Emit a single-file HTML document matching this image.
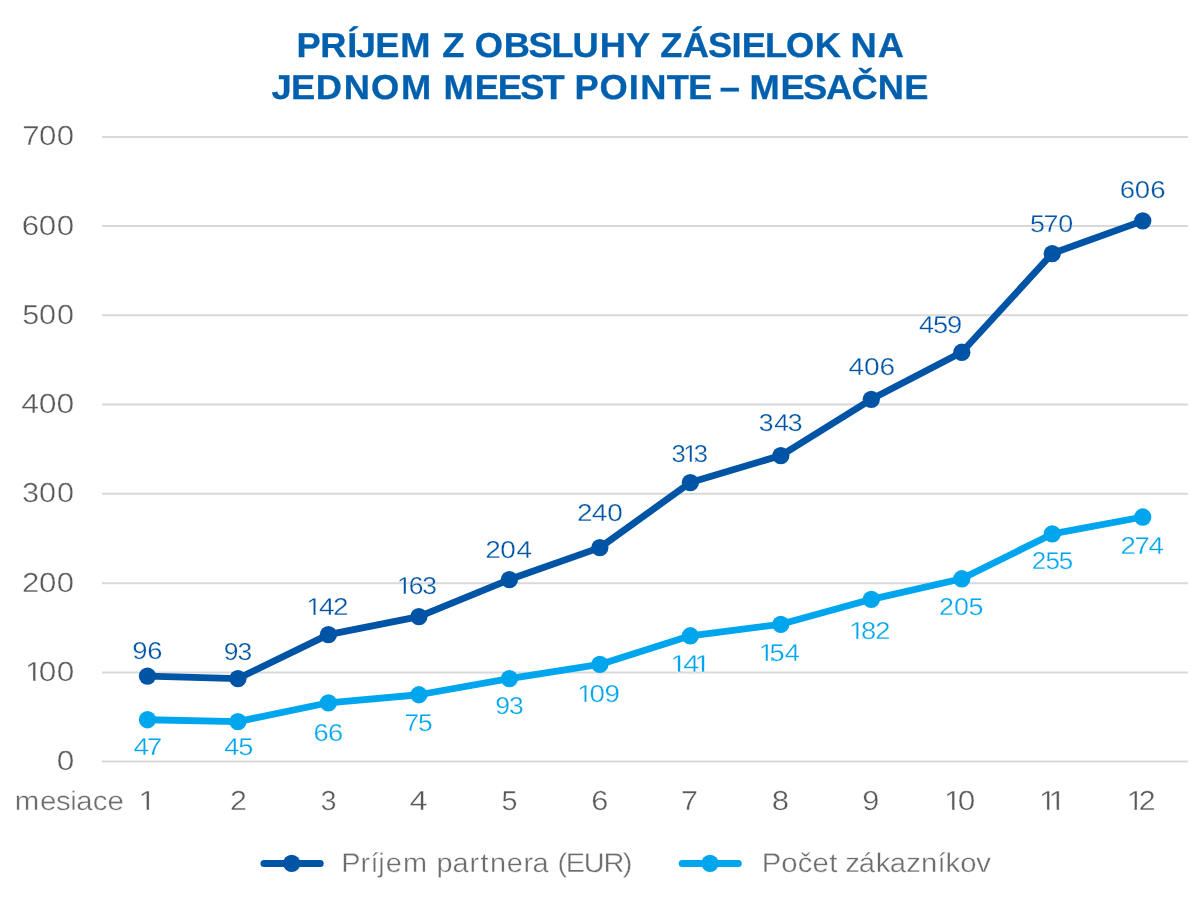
<!DOCTYPE html>
<html lang="sk"><head><meta charset="utf-8"><title>Príjem z obsluhy zásielok na jednom Meest Pointe – mesačne</title>
<style>
html,body{margin:0;padding:0;background:#fff;}
body{width:1200px;height:900px;overflow:hidden;}
svg{display:block;font-family:"Liberation Sans",sans-serif;font-kerning:none;font-variant-ligatures:none;text-rendering:geometricPrecision;}
</style></head><body>
<svg width="1200" height="900" viewBox="0 0 1200 900">
<defs>
<clipPath id="k1"><path clip-rule="evenodd" d="M19.0 653.5H88.2V687.0H19.0ZM26.21 678.34H33.15V682.00H26.21ZM35.54 678.34H41.53V682.00H35.54Z"/></clipPath>
<clipPath id="k2"><path clip-rule="evenodd" d="M132.6 782.5H169.9V816.0H132.6ZM139.79 807.34H146.68V811.00H139.79ZM149.05 807.34H155.69V811.00H149.05Z"/></clipPath>
<clipPath id="k3"><path clip-rule="evenodd" d="M938.0 782.5H989.4V816.0H938.0ZM945.21 807.34H952.15V811.00H945.21ZM954.53 807.34H960.52V811.00H954.53Z"/></clipPath>
<clipPath id="k4"><path clip-rule="evenodd" d="M1032.9 782.5H1079.9V816.0H1032.9ZM1040.08 807.34H1046.97V811.00H1040.08ZM1049.33 807.34H1056.70V811.00H1049.33ZM1059.07 807.34H1065.71V811.00H1059.07Z"/></clipPath>
<clipPath id="k5"><path clip-rule="evenodd" d="M1120.7 782.5H1169.2V816.0H1120.7ZM1127.79 807.34H1134.51V811.00H1127.79ZM1136.80 807.34H1140.07V811.00H1136.80Z"/></clipPath>
<clipPath id="k6"><path clip-rule="evenodd" d="M300.3 590.6H361.0V621.0H300.3ZM307.25 612.57H313.51V616.00H307.25ZM315.65 612.57H321.69V616.00H315.65Z"/></clipPath>
<clipPath id="k7"><path clip-rule="evenodd" d="M390.9 569.6H448.6V600.0H390.9ZM397.75 591.57H403.75V595.00H397.75ZM405.78 591.57H411.17V595.00H405.78Z"/></clipPath>
<clipPath id="k8"><path clip-rule="evenodd" d="M665.6 437.6H719.4V468.0H665.6ZM684.38 459.57H689.84V463.00H684.38ZM691.80 459.57H695.26V463.00H691.80Z"/></clipPath>
<clipPath id="k9"><path clip-rule="evenodd" d="M571.3 677.6H632.3V708.0H571.3ZM578.25 699.57H584.46V703.00H578.25ZM586.59 699.57H591.95V703.00H586.59Z"/></clipPath>
<clipPath id="k10"><path clip-rule="evenodd" d="M664.6 647.6H723.4V678.0H664.6ZM671.55 669.57H677.99V673.00H671.55ZM680.21 669.57H686.41V673.00H680.21ZM695.99 669.57H701.91V673.00H695.99ZM704.13 669.57H710.34V673.00H704.13Z"/></clipPath>
<clipPath id="k11"><path clip-rule="evenodd" d="M752.7 636.6H812.1V667.0H752.7ZM759.57 658.57H765.70V662.00H759.57ZM767.79 658.57H771.08V662.00H767.79Z"/></clipPath>
<clipPath id="k12"><path clip-rule="evenodd" d="M843.2 614.6H902.7V645.0H843.2ZM850.07 636.57H856.23V640.00H850.07ZM858.33 636.57H862.74V640.00H858.33Z"/></clipPath>
</defs>
<rect width="1200" height="900" fill="#ffffff"/>
<line x1="102" x2="1188" y1="761.58" y2="761.58" stroke="#d9d9d9" stroke-width="2"/>
<line x1="102" x2="1188" y1="672.45" y2="672.45" stroke="#d9d9d9" stroke-width="2"/>
<line x1="102" x2="1188" y1="583.20" y2="583.20" stroke="#d9d9d9" stroke-width="2"/>
<line x1="102" x2="1188" y1="493.70" y2="493.70" stroke="#d9d9d9" stroke-width="2"/>
<line x1="102" x2="1188" y1="404.50" y2="404.50" stroke="#d9d9d9" stroke-width="2"/>
<line x1="102" x2="1188" y1="315.25" y2="315.25" stroke="#d9d9d9" stroke-width="2"/>
<line x1="102" x2="1188" y1="226.00" y2="226.00" stroke="#d9d9d9" stroke-width="2"/>
<line x1="102" x2="1188" y1="137.00" y2="137.00" stroke="#d9d9d9" stroke-width="2"/>
<polyline points="147.45,719.73 237.93,721.56 328.41,702.78 418.90,694.75 509.38,678.60 599.86,664.46 690.34,635.77 780.82,624.31 871.30,599.32 961.79,578.76 1052.27,533.96 1142.75,517.01" fill="none" stroke="#00a6ed" stroke-width="6.8" stroke-linejoin="round" stroke-linecap="round"/>
<circle cx="147.45" cy="719.73" r="8.65" fill="#00a6ed"/>
<circle cx="237.93" cy="721.56" r="8.65" fill="#00a6ed"/>
<circle cx="328.41" cy="702.78" r="8.65" fill="#00a6ed"/>
<circle cx="418.90" cy="694.75" r="8.65" fill="#00a6ed"/>
<circle cx="509.38" cy="678.60" r="8.65" fill="#00a6ed"/>
<circle cx="599.86" cy="664.46" r="8.65" fill="#00a6ed"/>
<circle cx="690.34" cy="635.77" r="8.65" fill="#00a6ed"/>
<circle cx="780.82" cy="624.31" r="8.65" fill="#00a6ed"/>
<circle cx="871.30" cy="599.32" r="8.65" fill="#00a6ed"/>
<circle cx="961.79" cy="578.76" r="8.65" fill="#00a6ed"/>
<circle cx="1052.27" cy="533.96" r="8.65" fill="#00a6ed"/>
<circle cx="1142.75" cy="517.01" r="8.65" fill="#00a6ed"/>
<polyline points="147.45,676.06 237.93,678.60 328.41,634.57 418.90,616.59 509.38,579.56 599.86,547.62 690.34,482.53 780.82,455.53 871.30,399.32 961.79,352.26 1052.27,253.53 1142.75,220.87" fill="none" stroke="#0054a5" stroke-width="6.8" stroke-linejoin="round" stroke-linecap="round"/>
<circle cx="147.45" cy="676.06" r="8.65" fill="#0054a5"/>
<circle cx="237.93" cy="678.60" r="8.65" fill="#0054a5"/>
<circle cx="328.41" cy="634.57" r="8.65" fill="#0054a5"/>
<circle cx="418.90" cy="616.59" r="8.65" fill="#0054a5"/>
<circle cx="509.38" cy="579.56" r="8.65" fill="#0054a5"/>
<circle cx="599.86" cy="547.62" r="8.65" fill="#0054a5"/>
<circle cx="690.34" cy="482.53" r="8.65" fill="#0054a5"/>
<circle cx="780.82" cy="455.53" r="8.65" fill="#0054a5"/>
<circle cx="871.30" cy="399.32" r="8.65" fill="#0054a5"/>
<circle cx="961.79" cy="352.26" r="8.65" fill="#0054a5"/>
<circle cx="1052.27" cy="253.53" r="8.65" fill="#0054a5"/>
<circle cx="1142.75" cy="220.87" r="8.65" fill="#0054a5"/>
<line x1="264" x2="320.2" y1="863.4" y2="863.4" stroke="#0054a5" stroke-width="7" stroke-linecap="round"/>
<circle cx="291.7" cy="863.3" r="8.65" fill="#0054a5"/>
<line x1="682.2" x2="738.3" y1="863.4" y2="863.4" stroke="#00a6ed" stroke-width="7" stroke-linecap="round"/>
<circle cx="710" cy="863.3" r="8.65" fill="#00a6ed"/>
<text transform="translate(0,57.00) scale(1.0482,1)" x="282.75 305.45 331.27 339.38 358.07 381.75 410.61 421.82 442.98 452.82 480.49 504.30 526.07 546.12 572.29 597.21 620.32 629.83 651.26 675.38 697.79 707.56 729.93 749.81 777.29 802.32 811.43 837.29" y="0" font-size="34.65" fill="#0060ad" font-weight="700" stroke="#0060ad" stroke-width="0.3">PRÍJEM Z OBSLUHY ZÁSIELOK NA</text>
<text transform="translate(0,99.00) scale(1.0483,1)" x="258.88 277.55 301.32 327.84 354.00 382.52 411.39 423.14 452.82 474.83 496.36 517.42 538.58 547.99 571.83 599.70 610.65 635.95 656.25 679.36 686.55 705.82 714.91 744.58 766.09 788.04 812.24 837.25 862.59" y="0" font-size="34.65" fill="#0060ad" font-weight="700" stroke="#0060ad" stroke-width="0.3">JEDNOM MEEST POINTE – MESAČNE</text>
<text transform="translate(0,770.00) scale(1.1493,1)" x="49.31" y="0" font-size="27.47" fill="#595959" stroke="#fff" stroke-width="0.37">0</text>
<g clip-path="url(#k1)"><text transform="translate(0,681.00) scale(1.1493,1)" x="21.76 33.76 49.31" y="0" font-size="27.47" fill="#595959" stroke="#fff" stroke-width="0.37">100</text></g>
<text transform="translate(0,592.00) scale(1.1344,1)" x="19.48 34.30 50.06" y="0" font-size="27.47" fill="#595959" stroke="#fff" stroke-width="0.37">200</text>
<text transform="translate(0,502.00) scale(1.1159,1)" x="19.76 35.00 51.02" y="0" font-size="27.47" fill="#595959" stroke="#fff" stroke-width="0.37">300</text>
<text transform="translate(0,413.00) scale(1.1609,1)" x="18.34 33.35 48.74" y="0" font-size="27.47" fill="#595959" stroke="#fff" stroke-width="0.37">400</text>
<text transform="translate(0,324.00) scale(1.1152,1)" x="19.98 35.04 51.05" y="0" font-size="27.47" fill="#595959" stroke="#fff" stroke-width="0.37">500</text>
<text transform="translate(0,235.00) scale(1.1397,1)" x="19.20 34.11 49.79" y="0" font-size="27.47" fill="#595959" stroke="#fff" stroke-width="0.37">600</text>
<text transform="translate(0,145.00) scale(1.1367,1)" x="19.68 34.22 49.94" y="0" font-size="27.47" fill="#595959" stroke="#fff" stroke-width="0.37">700</text>
<g clip-path="url(#k2)"><text transform="translate(0,810.00) scale(1.1400,1)" x="121.59" y="0" font-size="27.47" fill="#595959" stroke="#fff" stroke-width="0.37">1</text></g>
<text transform="translate(0,810.00) scale(1.1046,1)" x="208.14" y="0" font-size="27.47" fill="#595959" stroke="#fff" stroke-width="0.37">2</text>
<text transform="translate(0,810.00) scale(1.0489,1)" x="305.47" y="0" font-size="27.47" fill="#595959" stroke="#fff" stroke-width="0.37">3</text>
<text transform="translate(0,810.00) scale(1.1839,1)" x="345.80" y="0" font-size="27.47" fill="#595959" stroke="#fff" stroke-width="0.37">4</text>
<text transform="translate(0,810.00) scale(1.0469,1)" x="479.08" y="0" font-size="27.47" fill="#595959" stroke="#fff" stroke-width="0.37">5</text>
<text transform="translate(0,810.00) scale(1.1204,1)" x="527.61" y="0" font-size="27.47" fill="#595959" stroke="#fff" stroke-width="0.37">6</text>
<text transform="translate(0,810.00) scale(1.1113,1)" x="612.79" y="0" font-size="27.47" fill="#595959" stroke="#fff" stroke-width="0.37">7</text>
<text transform="translate(0,810.00) scale(1.1353,1)" x="679.87" y="0" font-size="27.47" fill="#595959" stroke="#fff" stroke-width="0.37">8</text>
<text transform="translate(0,810.00) scale(1.1192,1)" x="770.41" y="0" font-size="27.47" fill="#595959" stroke="#fff" stroke-width="0.37">9</text>
<g clip-path="url(#k3)"><text transform="translate(0,810.00) scale(1.1493,1)" x="821.35 833.34" y="0" font-size="27.47" fill="#595959" stroke="#fff" stroke-width="0.37">10</text></g>
<g clip-path="url(#k4)"><text transform="translate(0,810.00) scale(1.1400,1)" x="911.31 919.85" y="0" font-size="27.47" fill="#595959" stroke="#fff" stroke-width="0.37">11</text></g>
<g clip-path="url(#k5)"><text transform="translate(0,810.00) scale(1.1046,1)" x="1019.99 1031.00" y="0" font-size="27.47" fill="#595959" stroke="#fff" stroke-width="0.37">12</text></g>
<text transform="translate(0,810.00) scale(1.0947,1)" x="13.54 36.61 51.05 64.17 69.56 84.81 98.16" y="0" font-size="26.86" fill="#6d6d6d" stroke="#fff" stroke-width="0.37">mesiace</text>
<text transform="translate(0,659.00) scale(1.1198,1)" x="118.19 131.59" y="0" font-size="24.42" fill="#0054a5" stroke="#fff" stroke-width="0.3">96</text>
<text transform="translate(0,660.00) scale(1.0841,1)" x="206.36 218.98" y="0" font-size="24.42" fill="#0054a5" stroke="#fff" stroke-width="0.3">93</text>
<g clip-path="url(#k6)"><text transform="translate(0,615.00) scale(1.1443,1)" x="267.70 278.75 291.03" y="0" font-size="24.42" fill="#0054a5" stroke="#fff" stroke-width="0.3">142</text></g>
<g clip-path="url(#k7)"><text transform="translate(0,594.00) scale(1.0847,1)" x="365.95 376.74 389.19" y="0" font-size="24.42" fill="#0054a5" stroke="#fff" stroke-width="0.3">163</text></g>
<text transform="translate(0,558.00) scale(1.1460,1)" x="423.41 436.46 450.65" y="0" font-size="24.42" fill="#0054a5" stroke="#fff" stroke-width="0.3">204</text>
<text transform="translate(0,521.00) scale(1.1460,1)" x="503.42 516.37 529.88" y="0" font-size="24.42" fill="#0054a5" stroke="#fff" stroke-width="0.3">240</text>
<g clip-path="url(#k8)"><text transform="translate(0,462.00) scale(1.0489,1)" x="640.27 651.37 661.42" y="0" font-size="24.42" fill="#0054a5" stroke="#fff" stroke-width="0.3">313</text></g>
<text transform="translate(0,431.00) scale(1.0939,1)" x="693.60 707.76 720.14" y="0" font-size="24.42" fill="#0054a5" stroke="#fff" stroke-width="0.3">343</text>
<text transform="translate(0,375.00) scale(1.1512,1)" x="737.13 750.57 763.95" y="0" font-size="24.42" fill="#0054a5" stroke="#fff" stroke-width="0.3">406</text>
<text transform="translate(0,333.00) scale(1.1167,1)" x="822.88 835.49 848.06" y="0" font-size="24.42" fill="#0054a5" stroke="#fff" stroke-width="0.3">459</text>
<text transform="translate(0,232.00) scale(1.1025,1)" x="934.19 946.49 959.81" y="0" font-size="24.42" fill="#0054a5" stroke="#fff" stroke-width="0.3">570</text>
<text transform="translate(0,198.00) scale(1.1300,1)" x="990.87 1004.23 1017.86" y="0" font-size="24.42" fill="#0054a5" stroke="#fff" stroke-width="0.3">606</text>
<text transform="translate(0,755.00) scale(1.1476,1)" x="116.27 127.81" y="0" font-size="24.42" fill="#00a6ed" stroke="#fff" stroke-width="0.3">47</text>
<text transform="translate(0,755.00) scale(1.1154,1)" x="200.98 213.61" y="0" font-size="24.42" fill="#00a6ed" stroke="#fff" stroke-width="0.3">45</text>
<text transform="translate(0,741.00) scale(1.1204,1)" x="279.80 292.84" y="0" font-size="24.42" fill="#00a6ed" stroke="#fff" stroke-width="0.3">66</text>
<text transform="translate(0,731.00) scale(1.0791,1)" x="374.90 387.28" y="0" font-size="24.42" fill="#00a6ed" stroke="#fff" stroke-width="0.3">75</text>
<text transform="translate(0,714.00) scale(1.0841,1)" x="456.92 469.54" y="0" font-size="24.42" fill="#00a6ed" stroke="#fff" stroke-width="0.3">93</text>
<g clip-path="url(#k9)"><text transform="translate(0,702.00) scale(1.1343,1)" x="508.99 519.80 533.02" y="0" font-size="24.42" fill="#00a6ed" stroke="#fff" stroke-width="0.3">109</text></g>
<g clip-path="url(#k10)"><text transform="translate(0,672.00) scale(1.1839,1)" x="566.38 577.10 586.58" y="0" font-size="24.42" fill="#00a6ed" stroke="#fff" stroke-width="0.3">141</text></g>
<g clip-path="url(#k11)"><text transform="translate(0,661.00) scale(1.1154,1)" x="680.20 689.96 703.67" y="0" font-size="24.42" fill="#00a6ed" stroke="#fff" stroke-width="0.3">154</text></g>
<g clip-path="url(#k12)"><text transform="translate(0,639.00) scale(1.1199,1)" x="758.25 768.91 781.62" y="0" font-size="24.42" fill="#00a6ed" stroke="#fff" stroke-width="0.3">182</text></g>
<text transform="translate(0,615.00) scale(1.1003,1)" x="853.50 867.10 880.31" y="0" font-size="24.42" fill="#00a6ed" stroke="#fff" stroke-width="0.3">205</text>
<text transform="translate(0,569.00) scale(1.0661,1)" x="967.77 980.58 993.21" y="0" font-size="24.42" fill="#00a6ed" stroke="#fff" stroke-width="0.3">255</text>
<text transform="translate(0,554.00) scale(1.1333,1)" x="988.79 1001.08 1013.41" y="0" font-size="24.42" fill="#00a6ed" stroke="#fff" stroke-width="0.3">274</text>
<text transform="translate(0,872.00) scale(1.0686,1)" x="319.33 337.44 346.84 353.95 360.89 377.19 399.73 408.45 423.37 439.40 449.57 458.59 474.32 489.89 498.23 513.28 521.68 529.42 546.29 564.87 582.87" y="0" font-size="27.06" fill="#6d6d6d" stroke="#fff" stroke-width="0.37">Príjem partnera (EUR)</text>
<text transform="translate(0,872.00) scale(1.0817,1)" x="704.32 722.16 737.41 751.06 766.64 774.16 781.41 793.92 809.72 822.60 837.82 851.40 866.77 874.20 887.70 902.55" y="0" font-size="27.06" fill="#6d6d6d" stroke="#fff" stroke-width="0.37">Počet zákazníkov</text>
</svg>
</body></html>
